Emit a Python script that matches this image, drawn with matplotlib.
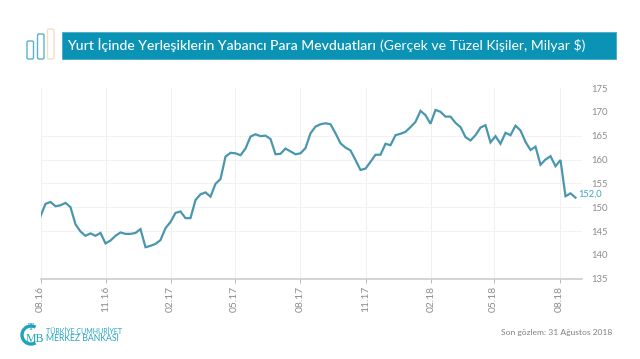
import numpy as np
import matplotlib
matplotlib.use('Agg')
import matplotlib.pyplot as plt
from matplotlib.patches import FancyBboxPatch, Rectangle, Arc

plt.rcParams['font.family'] = ['Lato', 'DejaVu Sans']

# Haftalik veri (Milyar $)
mevduat = [148.1, 150.7, 151.1, 150.2, 150.4, 150.9, 150.0, 146.4, 144.9, 144.0,
           144.5, 144.0, 144.6, 142.4, 143.0, 144.0, 144.7, 144.4, 144.4, 144.6,
           145.4, 141.6, 141.9, 142.3, 143.1, 145.6, 146.9, 148.8, 149.1, 147.7,
           147.7, 151.5, 152.7, 153.1, 152.2, 154.9, 155.9, 160.6, 161.4, 161.3,
           160.9, 162.3, 164.8, 165.3, 164.9, 165.0, 164.3, 161.1, 161.2, 162.3,
           161.7, 161.1, 161.3, 162.4, 165.5, 166.9, 167.4, 167.6, 167.4, 165.5,
           163.4, 162.5, 161.9, 159.9, 157.8, 158.1, 159.5, 161.0, 161.0, 163.3,
           163.0, 165.1, 165.4, 165.8, 166.8, 167.9, 170.2, 169.3, 167.5, 170.4,
           170.0, 169.0, 169.0, 167.7, 166.8, 164.7, 164.0, 165.1, 166.7, 167.2,
           163.6, 164.9, 163.3, 165.6, 165.1, 167.1, 166.1, 163.7, 162.0, 162.7,
           158.9, 160.0, 160.7, 158.6, 159.9, 152.3, 152.9, 152.0]
tarih_etiket = ['08.16', '11.16', '02.17', '05.17', '08.17', '11.17', '02.18', '05.18', '08.18']
tarih_hafta = [0, 13, 26, 38.8, 51.9, 65, 78.1, 90.6, 103.8]
y_ticks = [135, 140, 145, 150, 155, 160, 165, 170, 175]

W, H = 640, 359
fig = plt.figure(figsize=(6.4, 3.59), dpi=100, facecolor='white')

# Grafik
ax = fig.add_axes([40.5/W, 1-278.7/H, (582-40.5)/W, (278.7-88)/H])
x = np.arange(len(mevduat))
ax.plot(x, mevduat, color='#4a97ad', lw=1.6, solid_joinstyle='miter', zorder=3)
ax.set_xlim(0, 108.3)
ax.set_ylim(135, 175)
ax.set_xticks(tarih_hafta)
ax.set_xticklabels(tarih_etiket, rotation=90, fontsize=7.4, color='#8c8c8c')
ax.set_yticks(y_ticks)
ax.yaxis.tick_right()
ax.tick_params(axis='y', length=0, pad=7, labelsize=6.8, labelcolor='#8c8c8c')
ax.tick_params(axis='x', length=3, width=0.7, color='#b8b8b8', pad=2)
ax.grid(axis='x', color='#f0f0f0', lw=0.7)
for v in [145, 150, 155, 160, 165]:
    ax.axhline(v, color='#f2f2f2', lw=0.7, zorder=1)
for s in ['top', 'left', 'right']:
    ax.spines[s].set_visible(False)
ax.spines['bottom'].set_color('#c8c8c8')
ax.spines['bottom'].set_linewidth(1.1)
ax.text(x[-1]+0.6, mevduat[-1]+0.8, '152,0', color='#3aa5bd', fontsize=6.7, va='center', ha='left')

# Baslik ve logo icin piksel koordinatli eksen
bg = fig.add_axes([0, 0, 1, 1], zorder=5)
bg.set_xlim(0, W)
bg.set_ylim(H, 0)
bg.axis('off')
bg.patch.set_alpha(0)

bg.add_patch(Rectangle((62, 31.5), 554, 27, fc='#0b93b5', ec='#45aac6', lw=0.6))
bg.text(67, 45, 'Yurt İçinde Yerleşiklerin Yabancı Para Mevduatları', color='white',
        fontsize=10.1, fontweight='medium', va='center', ha='left')
bg.text(380, 45, '(Gerçek ve Tüzel Kişiler, Milyar $)', color='white',
        fontsize=10.1, va='center', ha='left')

for x0, y0, w, c in [(27, 41, 6.5, '#58b3c9'), (37.5, 34, 6.5, '#58b3c9'), (47.5, 29, 6.5, '#f1dfc2')]:
    bg.add_patch(FancyBboxPatch((x0, y0), w, 59-y0, boxstyle='round,pad=0,rounding_size=1.5',
                                fc='white', ec=c, lw=1.0))

# TCMB logosu
bg.add_patch(Arc((31, 335), 18, 18, theta1=60, theta2=300, color='#1fa3bd', lw=2.4))
bg.text(30.5, 327, 'T', color='#1fa3bd', fontsize=7.5, ha='center', va='center', family='Liberation Serif')
bg.text(34.5, 339.5, 'MB', color='#1fa3bd', fontsize=8.5, ha='center', va='center', family='Liberation Serif')
bg.text(46, 331, 'TÜRKİYE CUMHURİYET', color='#25a5bf', fontsize=5.0, va='center', ha='left')
bg.text(46, 338.5, 'MERKEZ BANKASI', color='#25a5bf', fontsize=6.2, va='center', ha='left')
bg.text(501, 332.5, 'Son gözlem: 31 Ağustos 2018', color='#808080', fontsize=6.1, va='center', ha='left')

fig.savefig('out.png', dpi=100)
